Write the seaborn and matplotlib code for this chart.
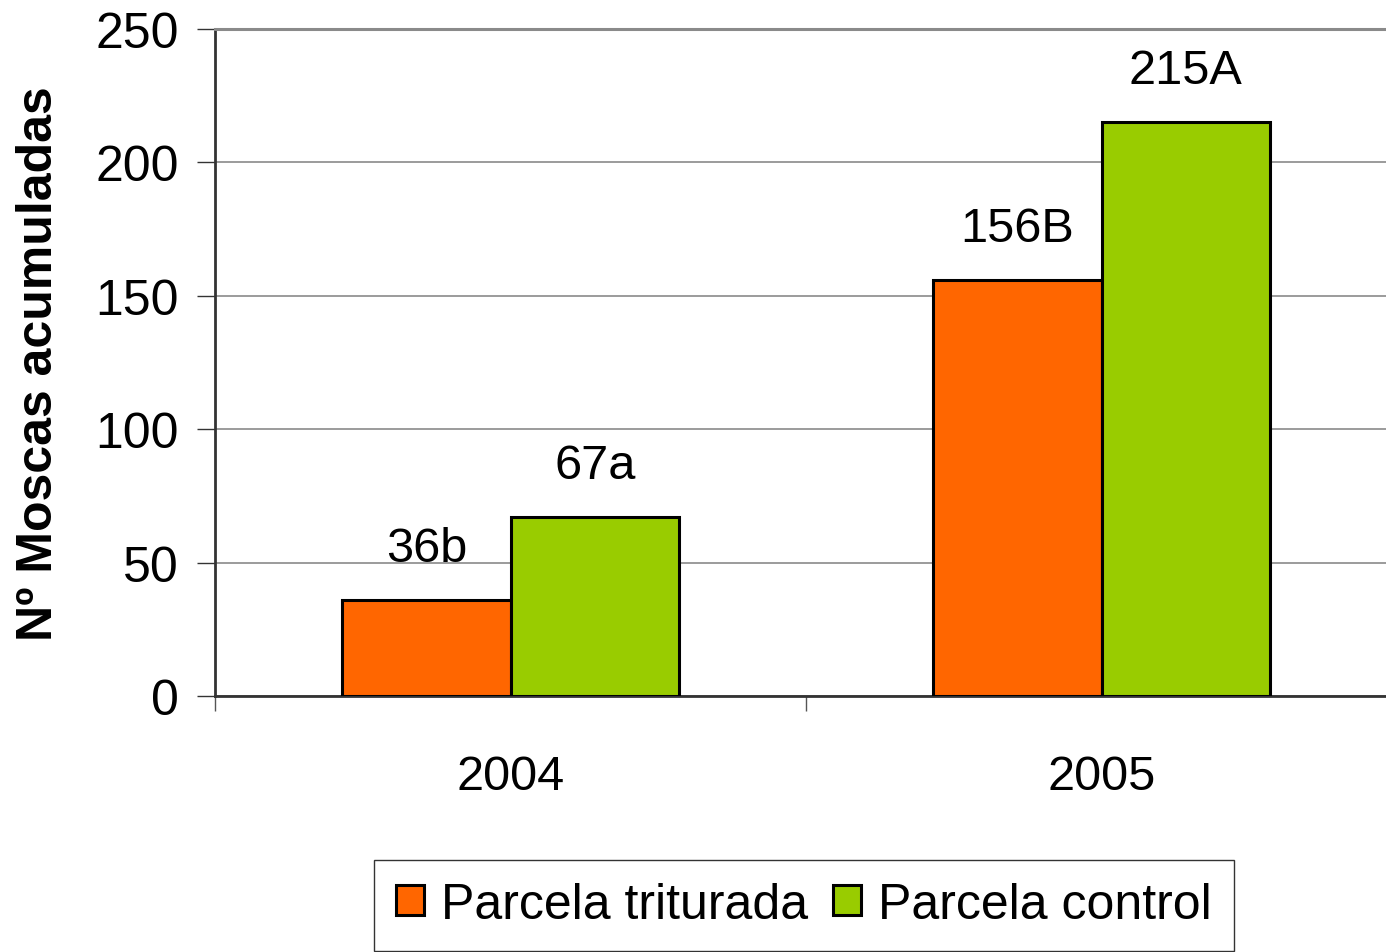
import matplotlib
matplotlib.use("Agg")
import matplotlib.pyplot as plt
import seaborn as sns
import pandas as pd
from matplotlib.patches import Patch

years = ["2004", "2005"]
series = ["Parcela triturada", "Parcela control"]
triturada = [36, 156]
control = [67, 215]
labels_trit = ["36b", "156B"]
labels_ctrl = ["67a", "215A"]
colors = ["#FF6600", "#99CC00"]

df = pd.DataFrame({
    "year": years * 2,
    "serie": [series[0]] * 2 + [series[1]] * 2,
    "value": triturada + control,
    "label": labels_trit + labels_ctrl,
})

sns.set_style("white")
plt.rcParams["font.family"] = ["Liberation Sans", "DejaVu Sans"]
plt.rcParams["text.color"] = "black"
plt.rcParams["xtick.color"] = "black"
plt.rcParams["ytick.color"] = "black"
plt.rcParams["axes.labelcolor"] = "black"

fig = plt.figure(figsize=(13.86, 9.53), dpi=100)
ax = fig.add_axes([215 / 1386, 1 - 697 / 953, (1397 - 215) / 1386, (697 - 30) / 953])

sns.barplot(data=df, x="year", y="value", hue="serie", order=years, hue_order=series,
            palette=colors, width=0.57, edgecolor="black", linewidth=2.2,
            saturation=1, ax=ax, legend=False, zorder=3)

ax.set_xlim(-0.5, 1.5)
ax.set_ylim(0, 250)
ax.set_yticks(range(0, 251, 50))
ax.yaxis.grid(True, color="#808080", linewidth=1.1, zorder=0)
ax.set_axisbelow(True)

ax.spines["right"].set_visible(False)
ax.spines["top"].set_color("#8a8a8a")
ax.spines["top"].set_linewidth(2.2)
ax.spines["left"].set_color("#333333")
ax.spines["left"].set_linewidth(2.0)
ax.spines["bottom"].set_color("#333333")
ax.spines["bottom"].set_linewidth(2.0)

ax.tick_params(axis="y", which="major", direction="out", length=13, width=1.0,
               color="#333333", labelsize=36, pad=13, left=True, labelcolor="black")
ax.set_xticks([0, 1])
ax.set_xticklabels(years)
ax.tick_params(axis="x", which="major", length=0, labelsize=35, pad=42, labelcolor="black")
ax.set_xticks([-0.5, 0.5, 1.5], minor=True)
ax.tick_params(axis="x", which="minor", direction="out", length=11, width=1.0,
               color="#555555", bottom=True)

ax.set_xlabel("")
ax.set_ylabel("Nº Moscas acumuladas", fontsize=36, fontweight="bold", labelpad=24,
              color="black")

for cont, labs in zip(ax.containers, [labels_trit, labels_ctrl]):
    for bar, lab in zip(cont, labs):
        ax.annotate(lab, (bar.get_x() + bar.get_width() / 2, bar.get_height()),
                    xytext=(0, 28), textcoords="offset points",
                    ha="center", va="baseline", fontsize=35, color="black")

handles = [Patch(facecolor=c, edgecolor="black", linewidth=2.2) for c in colors]
leg = fig.legend(handles, series, loc="center", bbox_to_anchor=(804 / 1386, 1 - 906 / 953),
                 ncol=2, fontsize=36, frameon=True, fancybox=False,
                 handlelength=0.55, handleheight=0.55, handletextpad=0.35,
                 columnspacing=0.5, borderpad=0.45, edgecolor="black")
leg.get_frame().set_linewidth(1.0)
for t in leg.get_texts():
    t.set_color("black")

fig.savefig("out.png", dpi=100)
